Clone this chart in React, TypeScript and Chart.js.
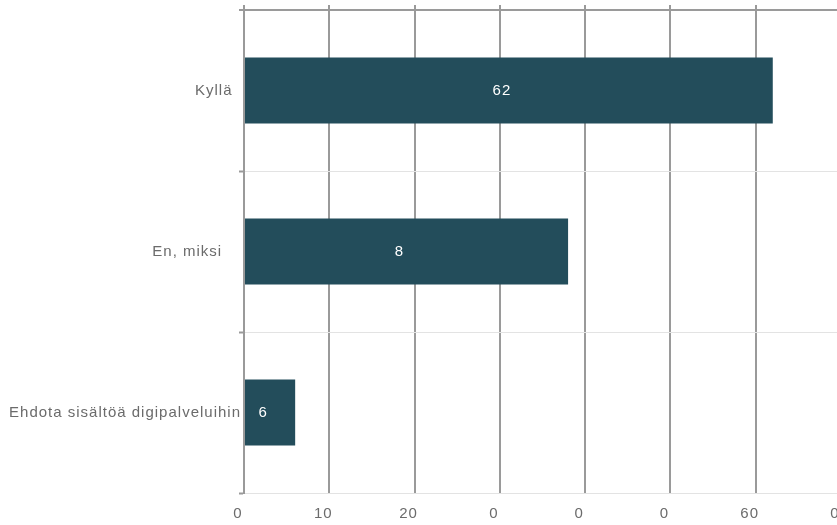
import React, { useEffect, useRef } from 'react';
import { Chart, registerables } from 'chart.js';

Chart.register(...registerables);

// Category labels (trailing spaces reproduce the uneven right edges of the original)
const categories = ['Kyllä\u2002', 'En, miksi\u2002  ', 'Ehdota sisältöä digipalveluihin'];
// Bar lengths as drawn
const values = [62, 38, 6];
// Value labels as printed inside the bars
const valueLabels = ['62', '8', '6'];
// Axis tick labels as printed
const xTickLabels = ['0', '10', '20', '0', '0', '0', '60', '0'];
const xMin = 0;
const xMax = 70;
const xStep = 10;

const FONT = "'Liberation Sans', Arial, Helvetica, sans-serif";
const BAR_COLOR = '#234d5b';
const DARK_LINE = '#9a9a9a';
const LIGHT_LINE = '#e3e3e3';
const TEXT_COLOR = '#6b6b6b';

const letterSpacingPlugin = {
  id: 'letterSpacing',
  beforeUpdate(chart: any) {
    chart.ctx.letterSpacing = '1px';
  },
  beforeDraw(chart: any) {
    chart.ctx.letterSpacing = '1px';
  },
};

const valueLabelPlugin = {
  id: 'valueLabels',
  afterDatasetsDraw(chart: any) {
    const ctx = chart.ctx;
    const meta = chart.getDatasetMeta(0);
    ctx.save();
    ctx.letterSpacing = '1px';
    ctx.font = `15px ${FONT}`;
    ctx.fillStyle = '#ffffff';
    ctx.textAlign = 'center';
    ctx.textBaseline = 'middle';
    meta.data.forEach((el: any, i: number) => {
      const p = el.getProps(['x', 'y', 'base'], true);
      ctx.fillText(valueLabels[i], (p.x + p.base) / 2 - 7, p.y);
    });
    ctx.restore();
  },
};

export default function App() {
  const canvasRef = useRef<HTMLCanvasElement | null>(null);

  useEffect(() => {
    if (!canvasRef.current) return;
    const font = { family: FONT, size: 15 };
    const chart = new Chart(canvasRef.current, {
      type: 'bar',
      data: {
        labels: categories,
        datasets: [
          {
            data: values,
            backgroundColor: BAR_COLOR,
            borderWidth: 0,
            categoryPercentage: 1,
            barPercentage: 0.41,
          },
        ],
      },
      options: {
        indexAxis: 'y',
        animation: false,
        responsive: true,
        maintainAspectRatio: false,
        layout: { padding: { top: 5, right: 9, bottom: 2, left: 0 } },
        plugins: {
          legend: { display: false },
          tooltip: { enabled: false },
        },
        scales: {
          x: {
            type: 'linear',
            position: 'bottom',
            min: xMin,
            max: xMax,
            ticks: {
              stepSize: xStep,
              autoSkip: false,
              maxRotation: 0,
              font,
              color: TEXT_COLOR,
              padding: 12,
              labelOffset: -6,
              callback: (_v: any, i: number) => xTickLabels[i],
            },
            grid: { color: DARK_LINE, lineWidth: 2, drawTicks: false },
            border: { display: false },
            afterFit: (s: any) => {
              s.height = 30;
              s.paddingLeft = 0;
              s.paddingRight = 0;
            },
          },
          xTop: {
            type: 'linear',
            axis: 'x',
            position: 'top',
            min: xMin,
            max: xMax,
            ticks: { display: false, stepSize: xStep },
            grid: { color: DARK_LINE, lineWidth: 2, drawOnChartArea: false, drawTicks: true, tickLength: 5 },
            border: { display: false },
            afterFit: (s: any) => {
              s.height = 5;
              s.paddingLeft = 0;
              s.paddingRight = 0;
            },
          },
          y: {
            type: 'category',
            grid: {
              color: (c: any) => (c.index === 0 ? DARK_LINE : LIGHT_LINE),
              lineWidth: (c: any) => (c.index === 0 ? 2 : 1),
              tickColor: DARK_LINE,
              tickWidth: 2,
              tickLength: 5,
              offset: true,
            },
            border: { display: true, color: DARK_LINE, width: 2 },
            ticks: { font, color: TEXT_COLOR, padding: -2, autoSkip: false },
            afterFit: (s: any) => {
              s.width = 244;
              s.paddingTop = 0;
              s.paddingBottom = 0;
            },
          },
        } as any,
      },
      plugins: [letterSpacingPlugin, valueLabelPlugin],
    } as any);
    return () => chart.destroy();
  }, []);

  return (
    <div style={{ position: 'fixed', left: 0, top: 0, width: 837, height: 525, overflow: 'hidden', background: '#fff' }}>
      <div style={{ position: 'relative', width: 850, height: 525 }}>
        <canvas ref={canvasRef} />
      </div>
    </div>
  );
}
